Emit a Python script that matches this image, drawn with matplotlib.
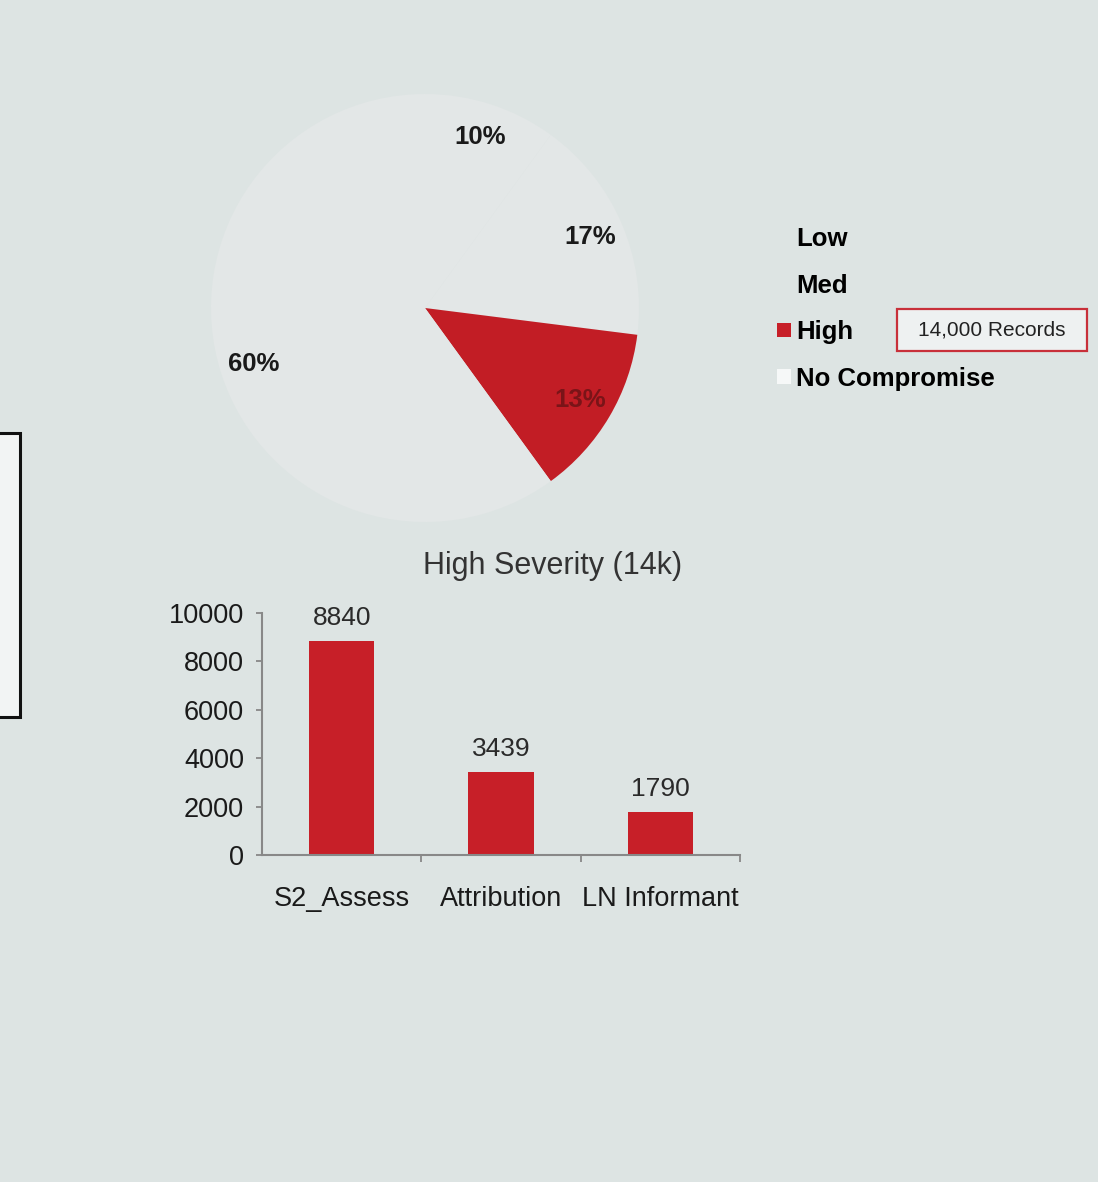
import matplotlib
matplotlib.use("Agg")
import matplotlib.pyplot as plt
from matplotlib.patches import Patch, Rectangle

# ---- data ----
severity_labels = ["Low", "Med", "High", "No Compromise"]
severity_share = [10, 17, 13, 60]
pct_labels = ["10%", "17%", "13%", "60%"]

bar_categories = ["S2_Assess", "Attribution", "LN Informant"]
bar_values = [8840, 3439, 1790]
y_ticks = [0, 2000, 4000, 6000, 8000, 10000]

bar_title = "High Severity (14k)"
records_note = "14,000 Records"

# ---- styles ----
BG = "#dde4e3"
PIE_BG = "#e3e7e7"
RED = "#c71f28"
pie_colors = [PIE_BG, PIE_BG, "#c21d25", PIE_BG]
legend_colors = [BG, BG, RED, "#f6f8f8"]
FONT = "Liberation Sans"

W, H = 1098, 1182
fig = plt.figure(figsize=(W / 100, H / 100), dpi=100, facecolor=BG)
plt.rcParams["font.family"] = [FONT, "DejaVu Sans"]

def fx(px):
    return px / W

def fy(py):
    return 1 - py / H

# ---- pie ----
cx, cy, r = 425, 308, 214
ax_pie = fig.add_axes([fx(cx - r), fy(cy + r), 2 * r / W, 2 * r / H])
ax_pie.set_facecolor("none")
wedges, texts, autotexts = ax_pie.pie(
    severity_share, colors=pie_colors, startangle=90, counterclock=False,
    labels=None, autopct=lambda p: "", pctdistance=0.84,
    wedgeprops=dict(linewidth=0))
for at, lab in zip(autotexts, pct_labels):
    at.set_text(lab)
    at.set_fontsize(18.5)
    at.set_fontweight("bold")
    at.set_color("#1a1a1a")
autotexts[2].set_color("#7a1418")
ax_pie.set_xlim(-1, 1)
ax_pie.set_ylim(-1, 1)
ax_pie.set_aspect("equal")
ax_pie.axis("off")

# ---- legend ----
handles = [Patch(facecolor=c, edgecolor="none") for c in legend_colors]
leg = fig.legend(handles, severity_labels, loc="upper left",
                 bbox_to_anchor=(fx(777), fy(227)), frameon=False,
                 prop=dict(family=FONT, weight="bold", size=18.5),
                 handlelength=0.55, handleheight=0.5, handletextpad=0.2,
                 labelspacing=0.88, borderpad=0, borderaxespad=0)

# records box
fig.add_artist(Rectangle((fx(897), fy(351)), fx(1087) - fx(897), fy(309) - fy(351),
                         transform=fig.transFigure, facecolor="#eef1f1",
                         edgecolor="#c8303a", linewidth=1.6))
fig.text(fx(992), fy(330), records_note, ha="center", va="center",
         fontsize=15, color="#222222")

# left box
fig.add_artist(Rectangle((fx(-5), fy(717)), fx(20) - fx(-5), fy(433) - fy(717),
                         transform=fig.transFigure, facecolor="#f2f4f4",
                         edgecolor="#111111", linewidth=2.2))

# ---- bar chart ----
ax_bar = fig.add_axes([fx(262), fy(855), (740 - 262) / W, (855 - 613) / H])
ax_bar.set_facecolor("none")
x = range(len(bar_categories))
bars = ax_bar.bar(x, bar_values, width=0.41, color=RED)
ax_bar.bar_label(bars, labels=[str(v) for v in bar_values], padding=8,
                 fontsize=19, color="#2a2a2a")
ax_bar.set_xlim(-0.5, 2.5)
ax_bar.set_ylim(0, 10000)
ax_bar.set_yticks(y_ticks)
ax_bar.set_yticklabels([str(t) for t in y_ticks], fontsize=19.5, color="#1a1a1a")
ax_bar.set_xticks(list(x))
ax_bar.set_xticklabels(bar_categories, fontsize=19.5, color="#1a1a1a")
ax_bar.set_xticks([0.5, 1.5, 2.5], minor=True)
ax_bar.tick_params(axis="x", which="major", length=0, pad=22)
ax_bar.tick_params(axis="x", which="minor", length=5, color="#888888", width=1.3)
ax_bar.tick_params(axis="y", length=4, color="#888888", width=1.3, pad=9)
for s in ["top", "right"]:
    ax_bar.spines[s].set_visible(False)
for s in ["left", "bottom"]:
    ax_bar.spines[s].set_color("#888888")
    ax_bar.spines[s].set_linewidth(1.5)

fig.text(fx(553), fy(566), bar_title, ha="center", va="center",
         fontsize=22, color="#333333")

fig.savefig("out.png", dpi=100, facecolor=BG)
